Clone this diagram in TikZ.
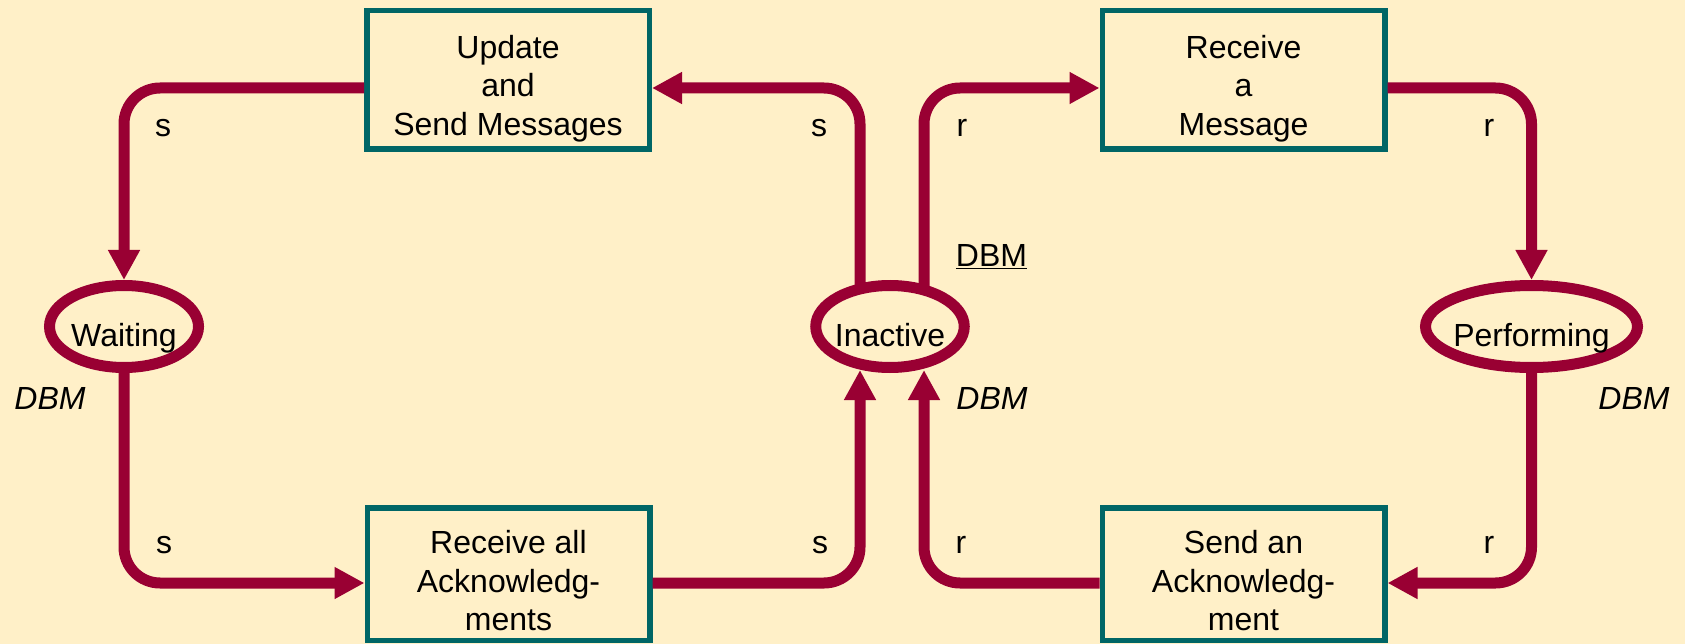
\documentclass[tikz,border=0pt]{standalone}
\usepackage{fontspec}
\setmainfont{Liberation Sans}
\usetikzlibrary{arrows.meta,shapes.geometric,calc}
\definecolor{bg}{RGB}{255,240,200}
\definecolor{flowc}{RGB}{153,0,51}
\definecolor{boxc}{RGB}{0,102,102}
\begin{document}
\begin{tikzpicture}[x=1pt,y=-1pt,
  font=\fontsize{32}{38.5}\selectfont,
  flow/.style={draw=flowc, line width=11pt, rounded corners=36pt, -{Triangle[width=30pt,length=30pt]}},
  stepbox/.style={draw=boxc, line width=5.5pt, minimum width=282.5pt, minimum height=138.5pt, inner sep=0pt},
  stateell/.style={ellipse, draw=flowc, line width=11pt, minimum height=82pt, inner sep=0pt},
  txt/.style={inner sep=0pt, align=center},
]
\fill[bg] (0,0) rectangle (1685,644);
\useasboundingbox (0,0) rectangle (1685,644);
\clip (0,0) rectangle (1685,644);

\node[stepbox] (upd) at (508,80) {};
\node[txt] (updt) at (508,88.5) {Update\\and\\Send Messages};
\node[stepbox] (rcv) at (1243.5,80) {};
\node[txt] (rcvt) at (1243.5,88.5) {Receive\\a\\Message};
\node[stepbox, minimum height=132.5pt] (rall) at (508.5,574) {};
\node[txt] (rallt) at (508.5,581) {Receive all\\Acknowledg-\\ments};
\node[stepbox, minimum height=132.5pt] (sack) at (1243.5,574) {};
\node[txt] (sackt) at (1243.5,581) {Send an\\Acknowledg-\\ment};

\node[stateell, minimum width=149pt] (wait) at (124,326.5) {};
\node[txt, anchor=base] (waitt) at (124,346.5) {Waiting};
\node[stateell, minimum width=148.5pt] (inact) at (890,326.5) {};
\node[txt, anchor=base] (inactt) at (890,346.5) {Inactive};
\node[stateell, minimum width=212pt] (perf) at (1531.5,326.5) {};
\node[txt, anchor=base] (perft) at (1531.5,346.5) {Performing};

\draw[flow] (upd.west |- 0,88) -| (wait.north);
\draw[flow] ($(inact.north)+(-30,8)$) |- (upd.east |- 0,88);
\draw[flow] ($(inact.north)+(34,8)$) |- (rcv.west |- 0,88);
\draw[flow] (rcv.east |- 0,88) -| (perf.north);
\draw[flow] (perf.south) |- (sack.east |- 0,583);
\draw[flow] (sack.west |- 0,583) -| ($(inact.south)+(34,-3)$);
\draw[flow] (wait.south) |- (rall.west |- 0,583);
\draw[flow] (rall.east |- 0,583) -| ($(inact.south)+(-30,-3)$);

\node[txt] (l1) at (163,128) {s};
\node[txt] (l2) at (819,128) {s};
\node[txt] (l3) at (962,128) {r};
\node[txt] (l4) at (1489,128) {r};
\node[txt] (l5) at (164,545) {s};
\node[txt] (l6) at (820,545) {s};
\node[txt] (l7) at (961,545) {r};
\node[txt] (l8) at (1489,545) {r};
\node[txt, anchor=base] (d0) at (991.5,266.5) {\underline{DBM}};
\node[txt] (d1) at (50,398) {\itshape DBM};
\node[txt] (d2) at (992,398) {\itshape DBM};
\node[txt] (d3) at (1634,398) {\itshape DBM};
\end{tikzpicture}
\end{document}
